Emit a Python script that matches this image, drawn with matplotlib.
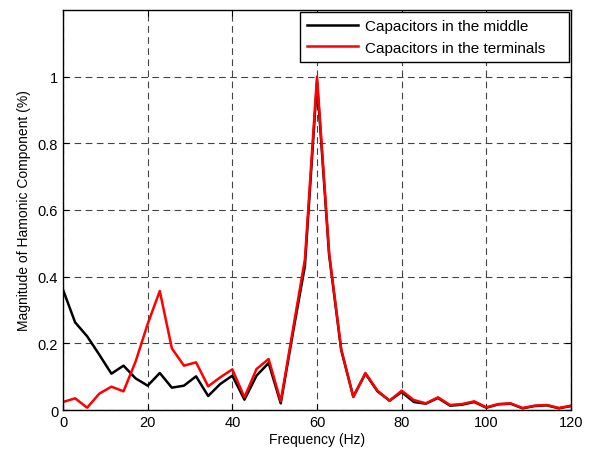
import matplotlib
matplotlib.use("Agg")
import matplotlib.pyplot as plt

plt.rcParams['font.family'] = ['Liberation Sans', 'DejaVu Sans']

# frequency bins (Hz), spacing 20/7 Hz
freq = [0.00, 2.86, 5.71, 8.57, 11.43, 14.29, 17.14, 20.00, 22.86, 25.71,
        28.57, 31.43, 34.29, 37.14, 40.00, 42.86, 45.71, 48.57, 51.43, 54.29,
        57.14, 60.00, 62.86, 65.71, 68.57, 71.43, 74.29, 77.14, 80.00, 82.86,
        85.71, 88.57, 91.43, 94.29, 97.14, 100.00, 102.86, 105.71, 108.57, 111.43,
        114.29, 117.14, 120.00]

middle = [0.361, 0.263, 0.221, 0.166, 0.109, 0.133, 0.095, 0.073, 0.111, 0.067,
          0.073, 0.101, 0.042, 0.078, 0.103, 0.031, 0.103, 0.141, 0.020, 0.230,
          0.432, 0.985, 0.465, 0.180, 0.040, 0.109, 0.056, 0.028, 0.054, 0.024,
          0.019, 0.036, 0.013, 0.016, 0.024, 0.007, 0.017, 0.019, 0.005, 0.012,
          0.014, 0.005, 0.012]

terminals = [0.024, 0.035, 0.007, 0.049, 0.070, 0.056, 0.145, 0.258, 0.357, 0.185,
             0.133, 0.143, 0.071, 0.098, 0.122, 0.038, 0.123, 0.153, 0.026, 0.240,
             0.452, 1.000, 0.472, 0.183, 0.039, 0.111, 0.058, 0.028, 0.058, 0.030,
             0.020, 0.038, 0.015, 0.018, 0.026, 0.008, 0.018, 0.020, 0.006, 0.013,
             0.015, 0.006, 0.013]

fig = plt.figure(figsize=(5.91, 4.52), dpi=100)
ax = fig.add_axes([0.1066, 0.0907, 0.8596, 0.885])

ax.plot(freq, middle, color='black', lw=1.8, label='Capacitors in the middle')
ax.plot(freq, terminals, color='red', lw=1.8, label='Capacitors in the terminals    ')

ax.set_xlim(0, 120)
ax.set_ylim(0, 1.2)
ax.set_xticks([0, 20, 40, 60, 80, 100, 120])
ax.set_yticks([0, 0.2, 0.4, 0.6, 0.8, 1.0])
ax.set_yticklabels(['0', '0.2', '0.4', '0.6', '0.8', '1'])
ax.grid(True, color='#444444', linestyle=(0, (6, 4)), linewidth=0.8)
ax.tick_params(direction='in', top=True, right=True, labelsize=10.5, length=4)
for s in ax.spines.values():
    s.set_linewidth(1.0)

ax.set_xlabel('Frequency (Hz)', fontsize=10, labelpad=2)
ax.set_ylabel('Magnitude of Hamonic Component (%)', fontsize=10, labelpad=5)

leg = ax.legend(loc='upper right', fontsize=11, fancybox=False, framealpha=1,
                edgecolor='black', borderaxespad=0.1, handlelength=3.3,
                handletextpad=0.45, borderpad=0.5, labelspacing=0.5)
leg.get_frame().set_linewidth(1.0)

fig.savefig('out.png', dpi=100)
